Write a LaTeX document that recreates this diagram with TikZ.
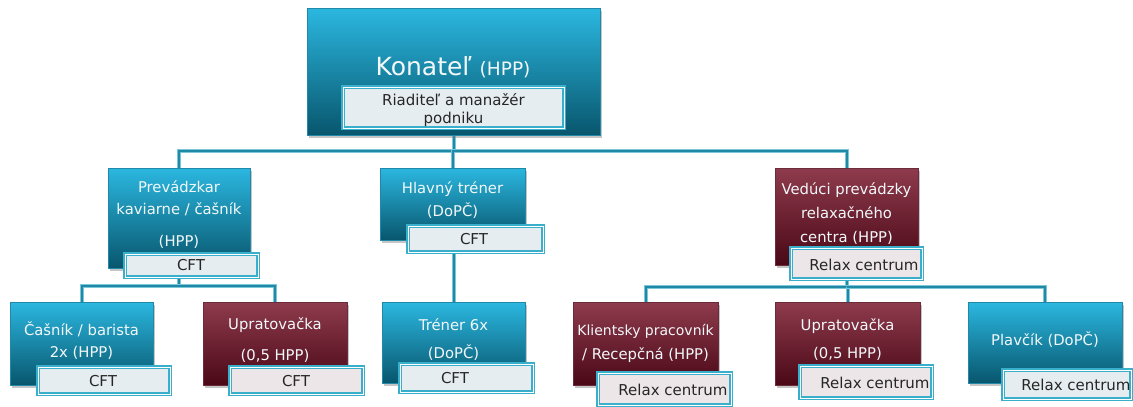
\documentclass[tikz,border=0pt]{standalone}
\usepackage{fontspec}
\setmainfont{DejaVu Sans}
\usetikzlibrary{shadows,backgrounds}

\definecolor{tealtop}{HTML}{2BB7E0}
\definecolor{tealbot}{HTML}{08566D}
\definecolor{redtop}{HTML}{8E3B4D}
\definecolor{redbot}{HTML}{4A0816}
\definecolor{lblframe}{HTML}{3AAFCB}
\definecolor{lblfill}{HTML}{E6EDF0}
\definecolor{lblfillr}{HTML}{EDE6E8}
\definecolor{connout}{HTML}{7CC6D9}
\definecolor{conncore}{HTML}{2089A6}
\definecolor{boxtext}{HTML}{F2F8FA}
\definecolor{lbltext}{HTML}{262626}

\tikzset{
  unitbox/.style={rectangle, inner sep=0pt,
    drop shadow={shadow xshift=2pt, shadow yshift=-3pt, opacity=0.45}},
  tealbox/.style={unitbox, top color=tealtop, bottom color=tealbot,
    draw=tealtop!75!black, line width=0.4pt},
  redbox/.style={unitbox, top color=redtop, bottom color=redbot,
    draw=redtop!75!black, line width=0.4pt},
  tag/.style={rectangle, inner sep=0pt, fill=lblfill, draw=lblframe,
    line width=1.4pt, double=white, double distance=0.8pt},
  tagr/.style={tag, fill=lblfillr},
  boxtxt/.style={text=boxtext, font=\fontsize{14.8}{16}\selectfont,
    inner sep=0pt, anchor=base},
  tagtxt/.style={text=lbltext, font=\fontsize{15}{17}\selectfont,
    inner sep=0pt, anchor=base},
  link/.style={draw=connout, line width=1pt, double=conncore,
    double distance=2pt},
}

\begin{document}
\begin{tikzpicture}[x=1pt, y=-1pt]
\useasboundingbox (0,0) rectangle (1133,407);

% ---- top level ----
\node[tealbox, minimum width=293pt, minimum height=127pt] (top) at (453.5,71.5) {};
\node[text=boxtext, inner sep=0pt, anchor=base, font=\fontsize{25}{27}\selectfont] (top-t) at (453,75)
  {Konateľ {\fontsize{18.5}{20}\selectfont (HPP)}};
\node[tag, minimum width=221pt, minimum height=41pt] (toplbl) at (453.5,107.5) {};
\node[tagtxt] (toplbl-1) at (453.5,105) {Riaditeľ a manažér};
\node[tagtxt] (toplbl-2) at (453.5,123) {podniku};

% ---- second level ----
\node[tealbox, minimum width=142pt, minimum height=100pt] (P) at (179,218) {};
\node[boxtxt] (P-1) at (179,192) {Prevádzkar};
\node[boxtxt] (P-2) at (179,214) {kaviarne / čašník};
\node[boxtxt] (P-3) at (179,246) {(HPP)};
\node[tag, minimum width=133pt, minimum height=23pt] (Plbl) at (191.5,265.5) {};
\node[tagtxt] (Plbl-t) at (191,270.5) {CFT};

\node[tealbox, minimum width=145pt, minimum height=72pt] (H) at (452.5,204) {};
\node[boxtxt] (H-1) at (452.5,193) {Hlavný tréner};
\node[boxtxt] (H-2) at (452.5,216) {(DoPČ)};
\node[tag, minimum width=135pt, minimum height=26pt] (Hlbl) at (475.5,239) {};
\node[tagtxt] (Hlbl-t) at (474,244) {CFT};

\node[redbox, minimum width=143pt, minimum height=97pt] (V) at (846.5,216.5) {};
\node[boxtxt] (V-1) at (846.5,194) {Vedúci prevádzky};
\node[boxtxt] (V-2) at (846.5,218) {relaxačného};
\node[boxtxt] (V-3) at (846.5,242) {centra (HPP)};
\node[tagr, minimum width=131pt, minimum height=31pt] (Vlbl) at (856.5,263.5) {};
\node[tagtxt] (Vlbl-t) at (864,270) {Relax centrum};

% ---- third level ----
\node[tealbox, minimum width=143pt, minimum height=83pt] (C) at (81.5,343.5) {};
\node[boxtxt] (C-1) at (81.5,335) {Čašník / barista};
\node[boxtxt] (C-2) at (81.5,357) {2x (HPP)};
\node[tag, minimum width=132pt, minimum height=27pt] (Clbl) at (104,380.5) {};
\node[tagtxt] (Clbl-t) at (103,386) {CFT};

\node[redbox, minimum width=144pt, minimum height=83pt] (U1) at (275,343.5) {};
\node[boxtxt] (U1-1) at (275,329) {Upratovačka};
\node[boxtxt] (U1-2) at (275,360) {(0,5 HPP)};
\node[tagr, minimum width=133pt, minimum height=27pt] (U1lbl) at (296.5,380.5) {};
\node[tagtxt] (U1lbl-t) at (296,386) {CFT};

\node[tealbox, minimum width=143pt, minimum height=81pt] (T) at (453.5,342.5) {};
\node[boxtxt] (T-1) at (453.5,330) {Tréner 6x};
\node[boxtxt] (T-2) at (453.5,358) {(DoPČ)};
\node[tag, minimum width=133pt, minimum height=28pt] (Tlbl) at (466.5,378) {};
\node[tagtxt] (Tlbl-t) at (455,383.5) {CFT};

\node[redbox, minimum width=145pt, minimum height=83pt] (K) at (645.5,343.5) {};
\node[boxtxt, font=\fontsize{14}{16}\selectfont] (K-1) at (645.5,335) {Klientsky pracovník};
\node[boxtxt] (K-2) at (645.5,359) {/ Recepčná (HPP)};
\node[tagr, minimum width=133pt, minimum height=32pt] (Klbl) at (664.5,389) {};
\node[tagtxt] (Klbl-t) at (673,395) {Relax centrum};

\node[redbox, minimum width=145pt, minimum height=83pt] (U2) at (847.5,343.5) {};
\node[boxtxt] (U2-1) at (847.5,330) {Upratovačka};
\node[boxtxt] (U2-2) at (847.5,358) {(0,5 HPP)};
\node[tagr, minimum width=132pt, minimum height=32pt] (U2lbl) at (866,382) {};
\node[tagtxt] (U2lbl-t) at (875,388) {Relax centrum};

\node[tealbox, minimum width=154pt, minimum height=81pt] (Pl) at (1045,342.5) {};
\node[boxtxt] (Pl-1) at (1045,345) {Plavčík (DoPČ)};
\node[tag, minimum width=128pt, minimum height=29pt] (Pllbl) at (1067,384.5) {};
\node[tagtxt] (Pllbl-t) at (1076,390.5) {Relax centrum};

% ---- connectors, drawn behind the boxes ----
\coordinate (bus0) at (453.5,151);
\coordinate (bus1) at (179,286);
\coordinate (bus2) at (846.5,287);
\begin{scope}[on background layer]
  \fill[white] (0,0) rectangle (1133,407);
  \draw[link] (top.south) -- (bus0);
  \draw[link] (bus0) -| (P.north);
  \draw[link] (bus0) -| (H.north);
  \draw[link] (bus0) -| (V.north);
  \draw[link] (Plbl.south -| P.south) -- (bus1);
  \draw[link] (bus1) -| (C.north);
  \draw[link] (bus1) -| (U1.north);
  \draw[link] (Hlbl.south -| T.north) -- (T.north);
  \draw[link] (Vlbl.south -| V.south) -- (bus2);
  \draw[link] (bus2) -| (K.north);
  \draw[link] (bus2) -| (U2.north);
  \draw[link] (bus2) -| (Pl.north);
\end{scope}
\end{tikzpicture}
\end{document}
